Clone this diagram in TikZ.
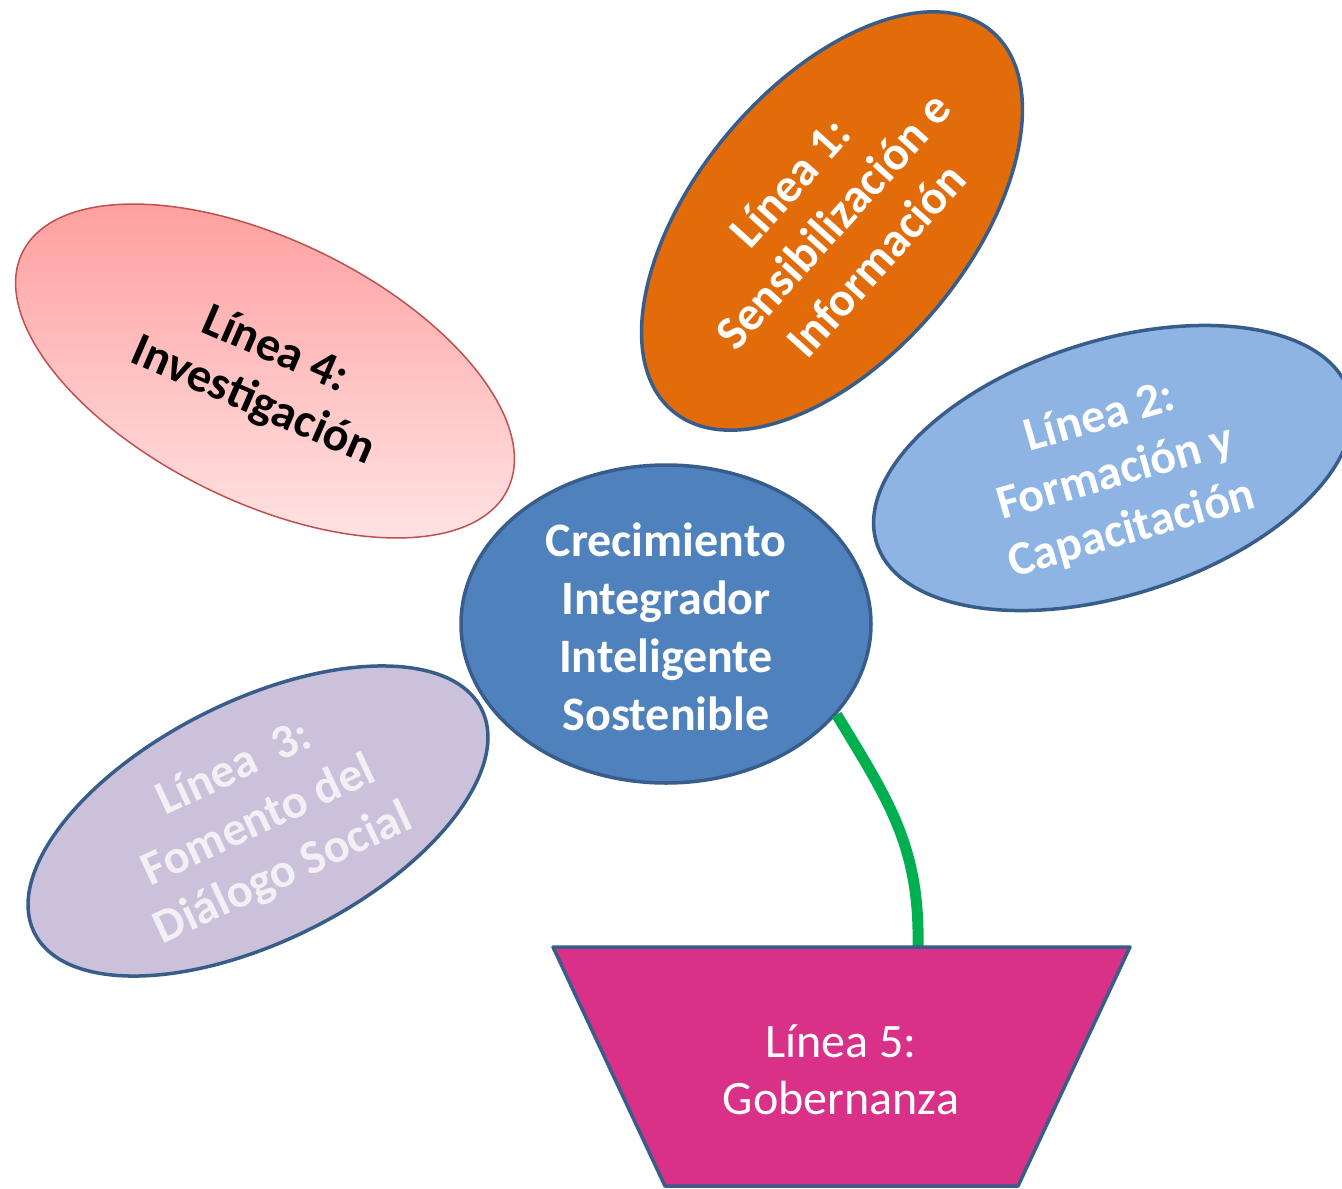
\documentclass[tikz,border=0pt]{standalone}
\usepackage{fontspec}
\setmainfont{Carlito}
\usetikzlibrary{shapes.geometric}
\definecolor{edgeblue}{HTML}{385D8A}
\definecolor{orangefill}{HTML}{E36C0A}
\definecolor{centerfill}{HTML}{4F81BD}
\definecolor{lightbluefill}{HTML}{8EB4E3}
\definecolor{lavenderfill}{HTML}{CCC1DA}
\definecolor{lavtext}{HTML}{F2F0F5}
\definecolor{potfill}{HTML}{DA3188}
\definecolor{stemgreen}{HTML}{00B050}
\definecolor{pinkedge}{HTML}{C0504D}
\definecolor{pinktop}{HTML}{FF9C9C}
\definecolor{pinkbot}{HTML}{FFE6E6}
\begin{document}
\begin{tikzpicture}[x=1pt,y=-1pt,
  petal/.style={ellipse, draw=edgeblue, line width=3.5pt, inner sep=0pt},
  ptext/.style={text=white, font=\fontsize{48}{58}\selectfont\bfseries, align=center, inner sep=0pt},
]
\useasboundingbox (0,0) rectangle (1342,1189);

% Línea 4 (pink, gradient)
\node[ellipse, draw=pinkedge, line width=1.5pt, inner sep=0pt,
      top color=pinktop, bottom color=pinkbot,
      minimum width=540pt, minimum height=262pt, rotate=-26] (l4) at (265,371) {};
\node[ptext, text=black, font=\fontsize{48}{56}\selectfont\bfseries, rotate=-23.5] (t4) at (264,376) {Línea 4:\\Investigación};

% Línea 1 (orange)
\node[petal, fill=orangefill, minimum width=496pt, minimum height=272pt, rotate=50] (l1) at (832,221) {};
\node[ptext, rotate=48] (t1) at (833,221) {Línea 1:\\Sensibilización e\\Información};

% Línea 2 (light blue)
\node[petal, fill=lightbluefill, minimum width=496pt, minimum height=254pt, rotate=17.7] (l2) at (1113,468) {};
\node[ptext, rotate=16] (t2) at (1116,474) {Línea 2:\\Formación y\\Capacitación};

% Línea 3 (lavender)
\node[petal, fill=lavenderfill, minimum width=500pt, minimum height=240pt, rotate=26.6] (l3) at (258,821) {};
\node[ptext, text=lavtext, rotate=25] (t3) at (259,822) {Línea~~3:\\Fomento del\\Diálogo Social};

% Pot (Línea 5)
\coordinate (potTL) at (553,947);
\coordinate (potTR) at (1130,947);
\coordinate (potBR) at (1018,1186);
\coordinate (potBL) at (665,1186);
\coordinate (stemEnd) at (918,947);

% Center
\node[petal, fill=centerfill, minimum width=410pt, minimum height=318pt] (core) at (666,624) {};

% stem
\draw[stemgreen, line width=11pt] (core.-28) .. controls (889,801) and (920,847) .. (stemEnd);

\draw[edgeblue, line width=3.5pt, fill=potfill, line join=round] (potTL) -- (potTR) -- (potBR) -- (potBL) -- cycle;
\node[text=white, font=\fontsize{48}{57}\selectfont, align=center] (t5) at (841,1070) {Línea 5:\\Gobernanza};

\node[ptext] (tc) at (666,627) {Crecimiento\\Integrador\\Inteligente\\Sostenible};
\end{tikzpicture}
\end{document}
